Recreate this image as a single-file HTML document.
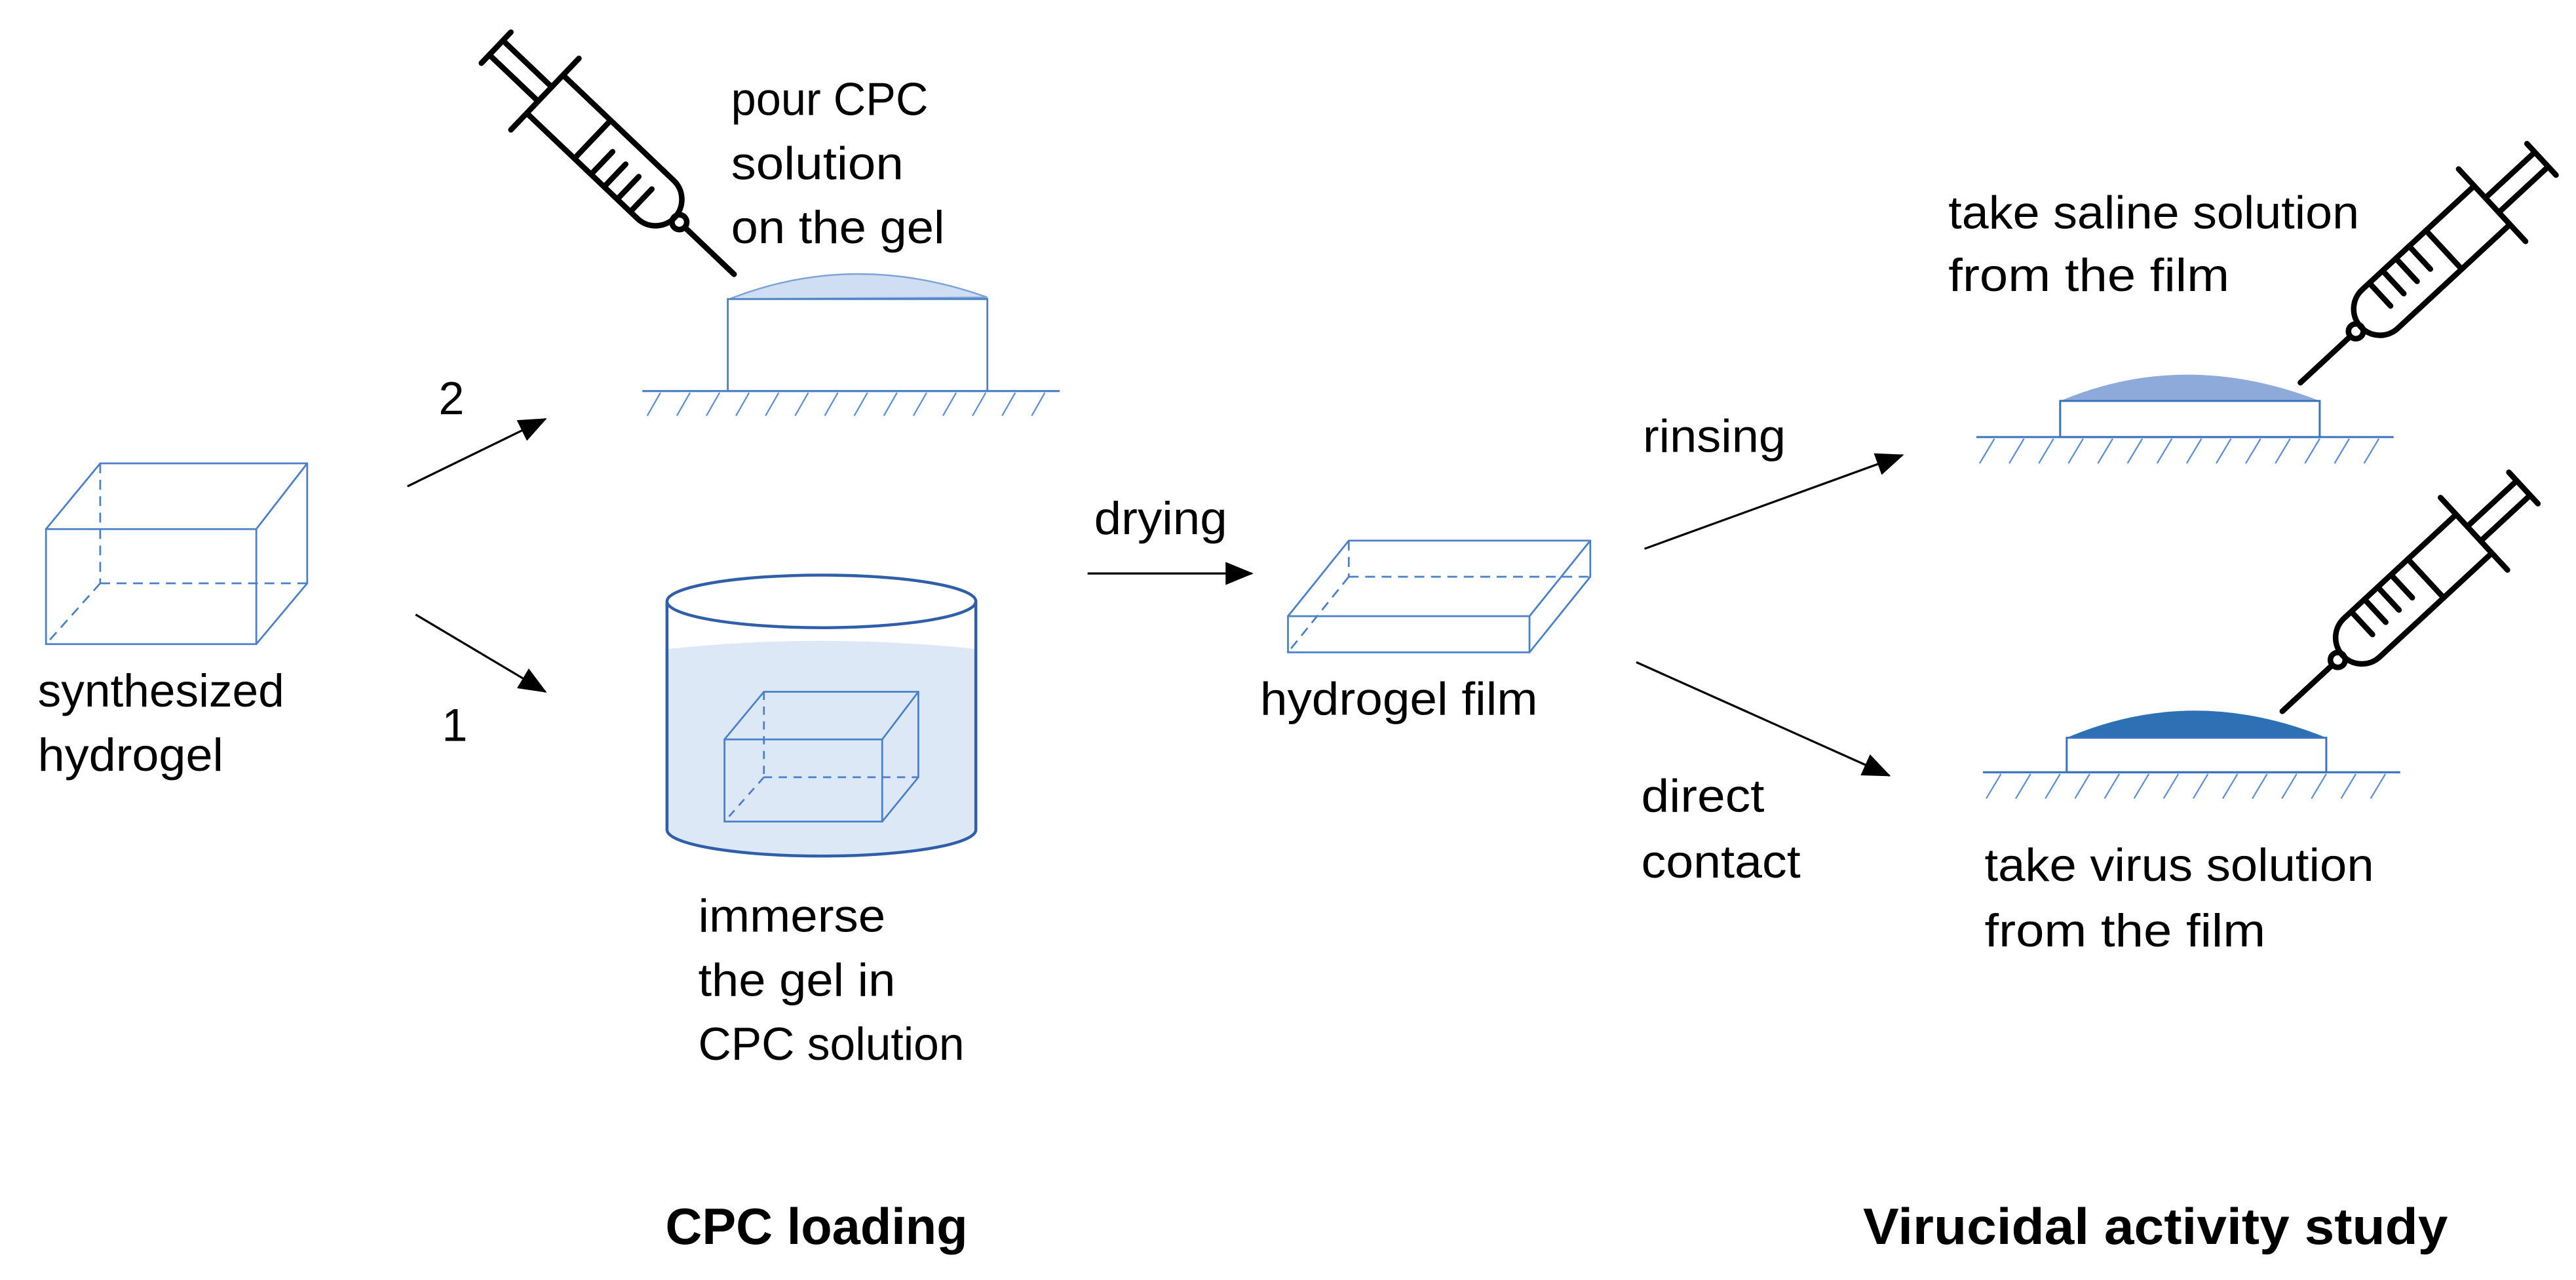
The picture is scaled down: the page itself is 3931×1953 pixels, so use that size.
<!DOCTYPE html>
<html><head><meta charset="utf-8"><style>
html,body{margin:0;padding:0;background:#fff;}
svg{display:block;}
text{font-family:"Liberation Sans",sans-serif;fill:#000;}
</style></head><body>
<svg width="3931" height="1953" viewBox="0 0 1568 779" xmlns="http://www.w3.org/2000/svg">
<defs>
<marker id="ah" markerWidth="17" markerHeight="14" refX="16" refY="7" orient="auto" markerUnits="userSpaceOnUse">
<path d="M0,0 L17,7 L0,14 Z" fill="#000"/></marker>
<g id="syr" fill="none" stroke="#000" stroke-width="3.4" stroke-linecap="round">
<line x1="0" y1="-13" x2="0" y2="13"/>
<line x1="0" y1="-6" x2="41" y2="-6"/>
<line x1="0" y1="6" x2="41" y2="6"/>
<line x1="41" y1="-30" x2="41" y2="30"/>
<path d="M41,-16 H134 A16,16 0 0 1 134,16 H41"/>
<line x1="81" y1="-16" x2="81" y2="16"/>
<line x1="95" y1="-3" x2="95" y2="16"/>
<line x1="106" y1="-3" x2="106" y2="16"/>
<line x1="117" y1="-3" x2="117" y2="16"/>
<line x1="128" y1="-3" x2="128" y2="16"/>
<circle cx="154" cy="0" r="4.5"/>
<line x1="158.5" y1="0" x2="200" y2="0"/>
</g>
</defs>

<g fill="none" stroke="#4a80c8" stroke-width="1.1">
<rect x="28" y="322" width="128" height="70"/>
<polyline points="28,322 61,282 187,282 187,355 156,392"/>
<line x1="156" y1="322" x2="187" y2="282"/>
<g stroke-dasharray="6,4">
<line x1="61" y1="282" x2="61" y2="355"/>
<line x1="61" y1="355" x2="187" y2="355"/>
<line x1="61" y1="355" x2="28" y2="392"/>
</g>
</g>
<g font-size="28" lengthAdjust="spacingAndGlyphs">
<text x="23" y="430" textLength="150" lengthAdjust="spacingAndGlyphs">synthesized</text>
<text x="23" y="469" textLength="113" lengthAdjust="spacingAndGlyphs">hydrogel</text>
</g>

<g stroke="#000" stroke-width="1.3">
<line x1="248" y1="296" x2="332" y2="255" marker-end="url(#ah)"/>
<line x1="253" y1="374" x2="332" y2="421" marker-end="url(#ah)"/>
<line x1="662" y1="349" x2="762" y2="349" marker-end="url(#ah)"/>
<line x1="1001" y1="334" x2="1158" y2="277" marker-end="url(#ah)"/>
<line x1="996" y1="403" x2="1150" y2="472" marker-end="url(#ah)"/>
</g>
<text x="267" y="252" font-size="28">2</text>
<text x="269" y="451" font-size="28">1</text>

<use href="#syr" transform="translate(302,29) rotate(43.6)"/>
<path d="M444,182 Q520,152 601,181 Z" fill="#cfdef2" stroke="#7ea3d8" stroke-width="1"/>
<rect x="443" y="182" width="158" height="56" fill="none" stroke="#4a80c8" stroke-width="1.1"/>
<line x1="391" y1="238" x2="645" y2="238" stroke="#4a80c8" stroke-width="1.2"/>
<g stroke="#5b8fd6" stroke-width="0.9">
<line x1="402" y1="239" x2="394" y2="253"/><line x1="420" y1="239" x2="412" y2="253"/><line x1="438" y1="239" x2="430" y2="253"/><line x1="456" y1="239" x2="448" y2="253"/><line x1="474" y1="239" x2="466" y2="253"/><line x1="492" y1="239" x2="484" y2="253"/><line x1="510" y1="239" x2="502" y2="253"/><line x1="528" y1="239" x2="520" y2="253"/><line x1="546" y1="239" x2="538" y2="253"/><line x1="564" y1="239" x2="556" y2="253"/><line x1="582" y1="239" x2="574" y2="253"/><line x1="600" y1="239" x2="592" y2="253"/><line x1="618" y1="239" x2="610" y2="253"/><line x1="636" y1="239" x2="628" y2="253"/>
</g>
<text x="445" y="70" font-size="28" textLength="120" lengthAdjust="spacingAndGlyphs">pour CPC</text>
<text x="445" y="109" font-size="28" textLength="105" lengthAdjust="spacingAndGlyphs">solution</text>
<text x="445" y="148" font-size="28" textLength="130" lengthAdjust="spacingAndGlyphs">on the gel</text>

<path d="M406,395 Q500,385 594,395 L594,505 A94,16 0 0 1 406,505 Z" fill="#dce8f6"/>
<ellipse cx="500" cy="366" rx="94" ry="16" fill="none" stroke="#2f5fa8" stroke-width="1.8"/>
<path d="M406,366 L406,505 A94,16 0 0 0 594,505 L594,366" fill="none" stroke="#2f5fa8" stroke-width="1.8"/>
<g fill="none" stroke="#4a80c8" stroke-width="1.1">
<rect x="441" y="450" width="96" height="50"/>
<polyline points="441,450 465,421 559,421 559,473 537,500"/>
<line x1="537" y1="450" x2="559" y2="421"/>
<g stroke-dasharray="5,4">
<line x1="465" y1="421" x2="465" y2="473"/>
<line x1="465" y1="473" x2="559" y2="473"/>
<line x1="465" y1="473" x2="441" y2="500"/>
</g>
</g>
<text x="425" y="567" font-size="28" textLength="114" lengthAdjust="spacingAndGlyphs">immerse</text>
<text x="425" y="606" font-size="28" textLength="120" lengthAdjust="spacingAndGlyphs">the gel in</text>
<text x="425" y="645" font-size="28" textLength="162" lengthAdjust="spacingAndGlyphs">CPC solution</text>
<text x="405" y="757" font-size="31" font-weight="bold" textLength="184" lengthAdjust="spacingAndGlyphs">CPC loading</text>

<text x="666" y="325" font-size="28" textLength="81" lengthAdjust="spacingAndGlyphs">drying</text>

<g fill="none" stroke="#4a80c8" stroke-width="1.1">
<rect x="784" y="375" width="147" height="22"/>
<polyline points="784,375 821,329 968,329 968,351 931,397"/>
<line x1="931" y1="375" x2="968" y2="329"/>
<g stroke-dasharray="6,4">
<line x1="821" y1="329" x2="821" y2="351"/>
<line x1="821" y1="351" x2="968" y2="351"/>
<line x1="821" y1="351" x2="784" y2="397"/>
</g>
</g>
<text x="767" y="435" font-size="28" textLength="169" lengthAdjust="spacingAndGlyphs">hydrogel film</text>

<text x="1000" y="275" font-size="28" textLength="87" lengthAdjust="spacingAndGlyphs">rinsing</text>
<text x="999" y="494" font-size="28" textLength="75" lengthAdjust="spacingAndGlyphs">direct</text>
<text x="999" y="534" font-size="28" textLength="97" lengthAdjust="spacingAndGlyphs">contact</text>

<use href="#syr" transform="translate(1547,97) rotate(137.2)"/>
<path d="M1254,244 Q1330,212 1412,244 Z" fill="#8eaadb"/>
<rect x="1254" y="244" width="158" height="22" fill="none" stroke="#3a73bd" stroke-width="1.2"/>
<line x1="1203" y1="266" x2="1457" y2="266" stroke="#3a73bd" stroke-width="1.2"/>
<g stroke="#5b8fd6" stroke-width="0.9">
<line x1="1214" y1="267" x2="1205" y2="282"/><line x1="1232" y1="267" x2="1223" y2="282"/><line x1="1250" y1="267" x2="1241" y2="282"/><line x1="1268" y1="267" x2="1259" y2="282"/><line x1="1286" y1="267" x2="1277" y2="282"/><line x1="1304" y1="267" x2="1295" y2="282"/><line x1="1322" y1="267" x2="1313" y2="282"/><line x1="1340" y1="267" x2="1331" y2="282"/><line x1="1358" y1="267" x2="1349" y2="282"/><line x1="1376" y1="267" x2="1367" y2="282"/><line x1="1394" y1="267" x2="1385" y2="282"/><line x1="1412" y1="267" x2="1403" y2="282"/><line x1="1430" y1="267" x2="1421" y2="282"/><line x1="1448" y1="267" x2="1439" y2="282"/>
</g>
<text x="1186" y="139" font-size="28" textLength="250" lengthAdjust="spacingAndGlyphs">take saline solution</text>
<text x="1186" y="177" font-size="28" textLength="171" lengthAdjust="spacingAndGlyphs">from the film</text>

<use href="#syr" transform="translate(1536,297) rotate(137.2)"/>
<path d="M1258,449 Q1335,416 1416,449 Z" fill="#2e70b4"/>
<rect x="1258" y="449" width="158" height="21" fill="none" stroke="#3a73bd" stroke-width="1.2"/>
<line x1="1207" y1="470" x2="1461" y2="470" stroke="#3a73bd" stroke-width="1.2"/>
<g stroke="#5b8fd6" stroke-width="0.9">
<line x1="1218" y1="471" x2="1209" y2="486"/><line x1="1236" y1="471" x2="1227" y2="486"/><line x1="1254" y1="471" x2="1245" y2="486"/><line x1="1272" y1="471" x2="1263" y2="486"/><line x1="1290" y1="471" x2="1281" y2="486"/><line x1="1308" y1="471" x2="1299" y2="486"/><line x1="1326" y1="471" x2="1317" y2="486"/><line x1="1344" y1="471" x2="1335" y2="486"/><line x1="1362" y1="471" x2="1353" y2="486"/><line x1="1380" y1="471" x2="1371" y2="486"/><line x1="1398" y1="471" x2="1389" y2="486"/><line x1="1416" y1="471" x2="1407" y2="486"/><line x1="1434" y1="471" x2="1425" y2="486"/><line x1="1452" y1="471" x2="1443" y2="486"/>
</g>
<text x="1208" y="536" font-size="28" textLength="237" lengthAdjust="spacingAndGlyphs">take virus solution</text>
<text x="1208" y="576" font-size="28" textLength="171" lengthAdjust="spacingAndGlyphs">from the film</text>

<text x="1134" y="757" font-size="31" font-weight="bold" textLength="356" lengthAdjust="spacingAndGlyphs">Virucidal activity study</text>
</svg>
</body></html>
